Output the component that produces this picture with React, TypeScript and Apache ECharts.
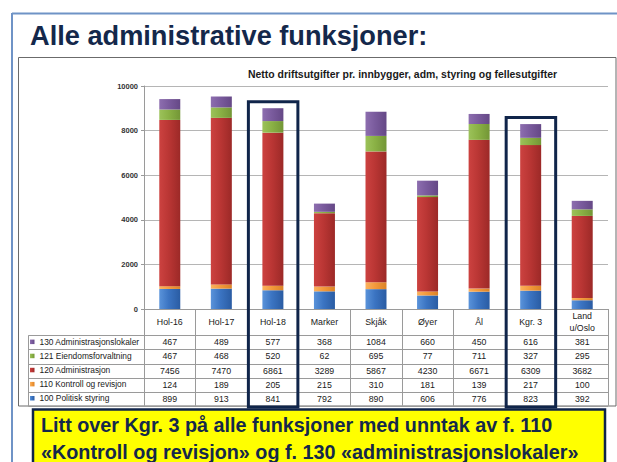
import React, { useEffect, useRef } from 'react';
import * as echarts from 'echarts';

// ---------- data ----------
const categories = ['Hol-16', 'Hol-17', 'Hol-18', 'Marker', 'Skjåk', 'Øyer', 'Ål', 'Kgr. 3', 'Land\nu/Oslo'];
const seriesNames = [
  '100 Politisk styring',
  '110 Kontroll og revisjon',
  '120 Administrasjon',
  '121 Eiendomsforvaltning',
  '130 Administrasjonslokaler',
];
const politiskStyring = [899, 913, 841, 792, 890, 606, 776, 823, 392];
const kontrollRevisjon = [124, 189, 205, 215, 310, 181, 139, 217, 100];
const administrasjon = [7456, 7470, 6861, 3289, 5867, 4230, 6671, 6309, 3682];
const eiendomsforvaltning = [467, 468, 520, 62, 695, 77, 711, 327, 295];
const administrasjonslokaler = [467, 489, 577, 368, 1084, 660, 450, 616, 381];
const yTicks = [0, 2000, 4000, 6000, 8000, 10000];
const highlightedIdx = [2, 7]; // Hol-18, Kgr. 3

const mainTitle = 'Alle administrative funksjoner:';
const chartTitle = 'Netto driftsutgifter pr. innbygger, adm, styring og fellesutgifter';
const noteLines = [
  'Litt over Kgr. 3 på alle funksjoner med unntak av f. 110',
  '«Kontroll og revisjon» og f. 130 «administrasjonslokaler»',
];

// ---------- styles ----------
const FONT = '"Liberation Sans", Arial, Helvetica, sans-serif';
const seriesData = [politiskStyring, kontrollRevisjon, administrasjon, eiendomsforvaltning, administrasjonslokaler];
const seriesColors = [
  ['#5A93DA', '#3B74C2', '#2A5CA3'],
  ['#FBB25E', '#F39A3C', '#DC8326'],
  ['#CC4240', '#BA3634', '#9C2927'],
  ['#9CC25A', '#8AB145', '#739636'],
  ['#8D6EAF', '#7A5B9D', '#654886'],
];
const NAVY = '#10254A';
const GRID = { left: 144, right: 9, top: 86, bottom: 153 };
const ROW_TOP = 335.3;
const ROW_H = 14.1;
const LEGEND_TEXT_H = 9;

function gradient(c: string[]) {
  return new echarts.graphic.LinearGradient(0, 0, 1, 0, [
    { offset: 0, color: c[0] },
    { offset: 0.45, color: c[1] },
    { offset: 1, color: c[2] },
  ]);
}

function buildGraphic(boxes: any[]) {
  const g: any[] = [];
  // slide frame
  g.push({ type: 'line', silent: true, shape: { x1: 12, y1: 13.5, x2: 617, y2: 13.5 }, style: { stroke: '#6F93C6', lineWidth: 2 } });
  g.push({ type: 'line', silent: true, shape: { x1: 12, y1: 13, x2: 12, y2: 462 }, style: { stroke: '#6F93C6', lineWidth: 2 } });
  g.push({
    type: 'text', silent: true, x: 30, y: 35,
    style: { text: mainTitle, fill: '#14284B', fontSize: 27.2, fontWeight: 'bold', fontFamily: FONT, textAlign: 'left', align: 'left', textVerticalAlign: 'middle', verticalAlign: 'middle' },
  });
  // chart box
  g.push({ type: 'rect', silent: true, z: -1, shape: { x: 18.5, y: 57.5, width: 597.5, height: 348.5 }, style: { fill: 'none', stroke: '#6b6b6b', lineWidth: 1 } });
  g.push({
    type: 'text', silent: true, x: 248, y: 74,
    style: { text: chartTitle, fill: '#1a1a1a', fontSize: 10.45, fontWeight: 'bold', fontFamily: FONT, textAlign: 'left', align: 'left', textVerticalAlign: 'middle', verticalAlign: 'middle' },
  });
  // table rows
  for (let i = 0; i <= 5; i++) {
    const y = Math.round(ROW_TOP + ROW_H * i) + 0.5;
    g.push({ type: 'line', silent: true, shape: { x1: 28.5, y1: y, x2: 608, y2: y }, style: { stroke: '#9a9a9a', lineWidth: 1 } });
  }
  g.push({ type: 'line', silent: true, shape: { x1: 28.5, y1: ROW_TOP, x2: 28.5, y2: ROW_TOP + ROW_H * 5 + 0.5 }, style: { stroke: '#9a9a9a', lineWidth: 1 } });
  // highlight boxes
  boxes.forEach((b) => {
    g.push({ type: 'rect', silent: true, z: 50, shape: { x: b.x, y: b.y, width: b.w, height: b.h }, style: { fill: 'none', stroke: NAVY, lineWidth: 3 } });
  });
  // note box
  g.push({ type: 'rect', silent: true, z: 60, shape: { x: 33, y: 409.5, width: 572, height: 70 }, style: { fill: '#FFFF00', stroke: NAVY, lineWidth: 2.5 } });
  noteLines.forEach((t, i) => {
    g.push({
      type: 'text', silent: true, z: 61, x: 41, y: 425 + i * 26.5,
      style: { text: t, fill: '#14284B', fontSize: 19.8, fontWeight: 'bold', fontFamily: FONT, textAlign: 'left', align: 'left', textVerticalAlign: 'middle', verticalAlign: 'middle' },
    });
  });
  return g;
}

function buildOption(boxes: any[]) {
  const tableRows = [...seriesData].reverse();
  const tableNames = [...seriesNames].reverse();
  const extraAxes = tableRows.map((row, r) => ({
    type: 'category',
    gridIndex: 0,
    data: categories,
    position: 'bottom',
    offset: 0,
    axisLine: { show: false },
    axisTick: { show: false },
    splitLine: { show: false },
    axisLabel: {
      interval: 0,
      margin: ROW_TOP + ROW_H * (r + 0.5) - (462 - GRID.bottom),
      verticalAlign: 'middle',
      fontSize: 8.8,
      color: '#1a1a1a',
      fontFamily: FONT,
      formatter: (_v: string, i: number) => String(row[i]),
    },
  }));
  const legends = tableNames.map((name, r) => ({
    show: true,
    orient: 'vertical',
    left: 30,
    top: ROW_TOP + ROW_H * (r + 0.5) - LEGEND_TEXT_H / 2,
    itemWidth: 4.5,
    itemHeight: 4.5,
    itemTextGap: 1.5,
    icon: 'rect',
    selectedMode: false,
    padding: 0,
    data: [name],
    textStyle: { fontSize: 8.4, color: '#1a1a1a', fontFamily: FONT },
  }));
  return {
    animation: false,
    backgroundColor: '#ffffff',
    textStyle: { fontFamily: FONT },
    grid: { ...GRID, containLabel: false, outerBoundsMode: 'none' },
    legend: legends,
    xAxis: [
      {
        type: 'category',
        gridIndex: 0,
        data: categories,
        position: 'bottom',
        axisLine: { show: true, lineStyle: { color: '#9a9a9a', width: 1 } },
        axisTick: { show: true, interval: 0, length: ROW_TOP + ROW_H * 5 - (462 - GRID.bottom), lineStyle: { color: '#9a9a9a' } },
        axisLabel: { interval: 0, margin: 13, verticalAlign: 'middle', fontSize: 8.8, lineHeight: 12, color: '#1a1a1a', fontFamily: FONT },
        splitLine: { show: false },
      },
      ...extraAxes,
    ],
    yAxis: {
      type: 'value',
      min: yTicks[0],
      max: yTicks[yTicks.length - 1],
      interval: yTicks[1] - yTicks[0],
      axisLine: { show: true, lineStyle: { color: '#9a9a9a' } },
      axisTick: { show: true, length: 3, lineStyle: { color: '#9a9a9a' } },
      axisLabel: { margin: 6, fontSize: 7.5, fontWeight: 'bold', color: '#333', fontFamily: FONT, formatter: (v: number) => String(v) },
      splitLine: { show: true, lineStyle: { color: '#b5b5b5', width: 1 } },
    },
    series: seriesNames.map((name, s) => ({
      name,
      type: 'bar',
      stack: 'total',
      xAxisIndex: 0,
      barWidth: 21,
      data: seriesData[s],
      itemStyle: { color: gradient(seriesColors[s]) },
    })),
    graphic: buildGraphic(boxes),
  };
}

export default function App() {
  const ref = useRef<HTMLDivElement>(null);
  useEffect(() => {
    if (!ref.current) return;
    const chart = echarts.init(ref.current, null, { renderer: 'svg' });
    chart.setOption(buildOption([]));
    const boxes = highlightedIdx.map((idx) => {
      const total = seriesData.reduce((a, arr) => a + arr[idx], 0);
      const cx = chart.convertToPixel({ xAxisIndex: 0 }, idx) as number;
      const topY = chart.convertToPixel({ yAxisIndex: 0 }, total) as number;
      const bottomY = 407;
      return { x: cx - 24.5, y: topY - 6.5, w: 49.5, h: bottomY - (topY - 6.5) };
    });
    chart.setOption(buildOption(boxes), { notMerge: true });
    return () => chart.dispose();
  }, []);
  return <div ref={ref} style={{ position: 'absolute', left: 0, top: 0, width: 617, height: 462 }} />;
}
